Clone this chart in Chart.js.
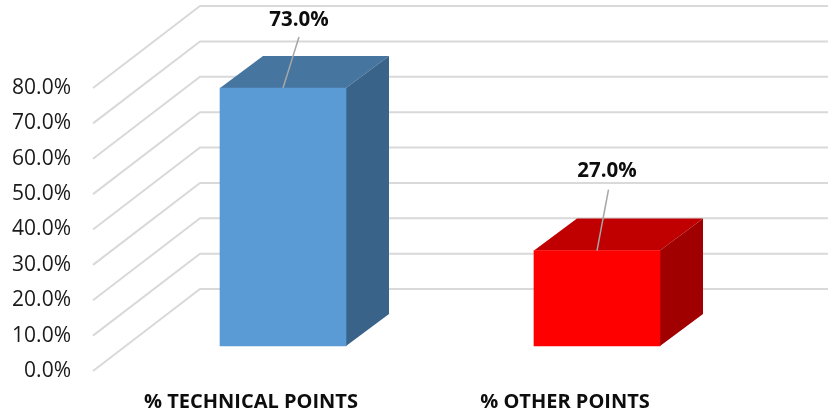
<!DOCTYPE html>
<html>
<head>
<meta charset="utf-8">
<style>html,body{margin:0;padding:0;background:#fff}#wrap{width:828px;height:415px;position:relative}</style>
<script src="https://cdn.jsdelivr.net/npm/chart.js@4/dist/chart.umd.js"></script>
</head>
<body>
<div id="wrap"><canvas id="c" width="828" height="415"></canvas></div>
<script>
const categories = ['% TECHNICAL POINTS', '% OTHER POINTS'];
const shares = [0.73, 0.27];
const axisMax = 0.8;
const axisStep = 0.1;

const frontColors = ['#5B9BD5', '#FF0000'];
const topColors = ['#4675A0', '#C00000'];
const sideColors = ['#3A638A', '#A00000'];

const FONT = '"Open Sans"';
const PLOT_BOTTOM = 371;
const wall = {dx: 107, dy: 82, color: '#D9D9D9', width: 2};
const depth = {dx: 43, dy: 32};
const leaders = [{dx: 16, dy: 51, lx: 16, ly: 68}, {dx: 11.5, dy: 61, lx: 10, ly: 79}];

const walls = {
  id: 'walls',
  afterLayout(chart) {
    const a = chart.chartArea, s = chart.scales;
    a.bottom = PLOT_BOTTOM;
    a.height = a.bottom - a.top;
    [s.y, s.yFront].forEach(sc => {
      sc.bottom = PLOT_BOTTOM;
      sc.height = sc.bottom - sc.top;
      sc.configure();
    });
    s.x.top = PLOT_BOTTOM;
    s.x.bottom = chart.height;
    s.x.height = s.x.bottom - s.x.top;
    s.x.configure();
  },
  beforeDatasetsDraw(chart) {
    const {ctx, scales: {y}, width} = chart;
    ctx.save();
    ctx.strokeStyle = wall.color;
    ctx.lineWidth = wall.width;
    y.ticks.forEach(t => {
      const py = y.getPixelForValue(t.value);
      const x0 = 93;
      ctx.beginPath();
      ctx.moveTo(x0, py);
      ctx.lineTo(x0 + wall.dx, py - wall.dy);
      ctx.lineTo(width, py - wall.dy);
      ctx.stroke();
    });
    const bars = chart.getDatasetMeta(0).data;
    bars.forEach((b, i) => {
      const l = b.x - b.width / 2, r = b.x + b.width / 2, t = b.y, bt = b.base;
      ctx.fillStyle = topColors[i];
      ctx.beginPath();
      ctx.moveTo(l, t); ctx.lineTo(l + depth.dx, t - depth.dy);
      ctx.lineTo(r + depth.dx, t - depth.dy); ctx.lineTo(r, t);
      ctx.closePath(); ctx.fill();
      ctx.fillStyle = sideColors[i];
      ctx.beginPath();
      ctx.moveTo(r, t); ctx.lineTo(r + depth.dx, t - depth.dy);
      ctx.lineTo(r + depth.dx, bt - depth.dy); ctx.lineTo(r, bt);
      ctx.closePath(); ctx.fill();
    });
    ctx.restore();
  },
  afterDatasetsDraw(chart) {
    const {ctx} = chart;
    const bars = chart.getDatasetMeta(0).data;
    ctx.save();
    bars.forEach((b, i) => {
      const o = leaders[i];
      ctx.strokeStyle = '#A6A6A6';
      ctx.lineWidth = 1.5;
      ctx.beginPath();
      ctx.moveTo(b.x, b.y);
      ctx.lineTo(b.x + o.dx, b.y - o.dy);
      ctx.stroke();
      ctx.fillStyle = '#0D0D0D';
      ctx.font = 'bold 20.5px ' + FONT;
      ctx.textAlign = 'center';
      ctx.textBaseline = 'middle';
      ctx.fillText((shares[i] * 100).toFixed(1) + '%', b.x + o.lx, b.y - o.ly);
    });
    ctx.restore();
  }
};

new Chart(document.getElementById('c'), {
  type: 'bar',
  data: {
    labels: categories,
    datasets: [{
      data: shares,
      yAxisID: 'yFront',
      backgroundColor: frontColors,
      borderWidth: 0,
      barThickness: 126,
      clip: false
    }]
  },
  plugins: [walls],
  options: {
    responsive: false,
    animation: false,
    layout: {autoPadding: false, padding: {left: 12, right: 74, top: 88, bottom: 0}},
    plugins: {legend: {display: false}, tooltip: {enabled: false}},
    scales: {
      x: {
        grid: {display: false, drawTicks: false},
        border: {display: false},
        ticks: {color: '#0D0D0D', font: {family: FONT, weight: 'bold', size: 20}, padding: 19, maxRotation: 0, labelOffset: -32}
      },
      y: {
        min: 0,
        max: axisMax,
        grid: {display: false, drawTicks: false},
        border: {display: false},
        afterFit(s) { s.width = 114; },
        ticks: {
          stepSize: axisStep,
          padding: 55,
          color: '#1A1A1A',
          font: {family: FONT, size: 21},
          callback: v => (v * 100).toFixed(1) + '%'
        }
      },
      yFront: {
        display: false,
        min: -0.0707,
        max: 0.73
      }
    }
  }
});
</script>
</body>
</html>
